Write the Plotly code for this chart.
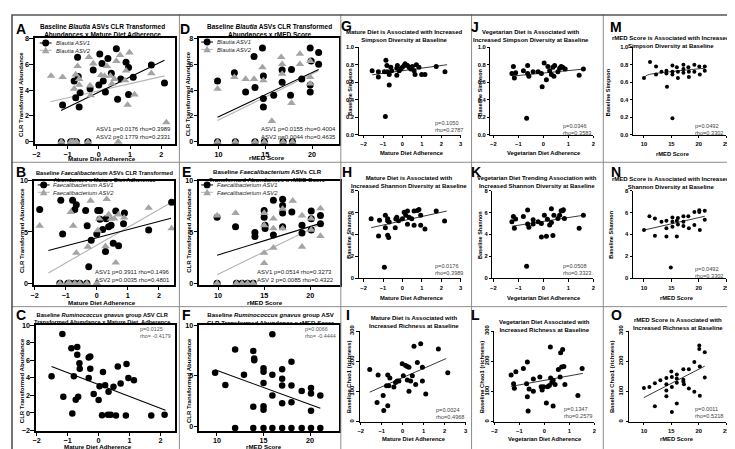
import plotly.graph_objects as go

W, H = 735, 449
FONT = "Liberation Sans, Arial, Helvetica, sans-serif"

# ---------------- tick values ----------------
TICKS_ADH = [-2, -1, 0, 1, 2]
TICKS_ADH3 = [-2, -1, 0, 1, 2, 3]
TICKS_RMED = [10, 15, 20]
TICKS_RMED25 = [10, 15, 20, 25]
TICKS_CLR8 = [0, 2, 4, 6, 8]
TICKS_CLR10 = [0, 5, 10]
TICKS_CLR_C = [-2, 0, 2, 4, 6, 8, 10]
TICKS_SIMPSON = [0, 0.2, 0.4, 0.6, 0.8, 1.0]
TICKS_SHANNON = [0, 2, 4, 6, 8]
TICKS_CHAO = [0, 100, 200, 300]

# ---------------- Panel A: Blautia x Mature diet ----------------
A_x1 = [-1.16, -0.79, -0.74, -0.68, -0.66, -0.60, -0.63, -0.28, -0.18, 0.03, 0.00, 0.10, 0.14, 0.21, 0.29,
        0.40, 0.56, 0.60, 0.70, 0.87, 0.95, 0.95, 1.10, 1.68, 2.10, -1.20, -0.90, -0.82, -0.72, -0.35]
A_y1 = [2.85, 4.70, 3.40, 6.55, 5.05, 3.80, 2.70, 4.10, 5.55, 6.80, 4.40, 6.05, 4.70, 3.85, 6.45,
        5.30, 7.20, 3.30, 4.85, 6.15, 5.75, 3.65, 5.00, 5.95, 4.55, 0, 0, 0, 0, 0]
A_x2 = [-1.53, -1.16, -0.74, -0.68, -0.63, -0.63, -0.79, -0.32, -0.28, -0.26, -0.18, 0.07, 0.18, 0.26, 0.37,
        0.42, 0.50, 0.68, 0.56, 0.84, 0.87, 0.92, 1.14, 0.98, 1.68, 2.16, -1.20, -0.90, -0.82, -0.72, -0.35, 0.62]
A_y2 = [5.10, 5.00, 5.20, 5.85, 4.85, 4.40, 4.10, 6.55, 4.35, 3.60, 6.05, 5.15, 5.10, 5.85, 5.10,
        4.50, 4.85, 6.70, 6.25, 4.75, 5.50, 2.85, 3.65, 6.90, 5.30, 1.50, 0, 0, 0, 0, 0, 0]
A_fit1_x = [-1.21, 2.10]
A_fit1_y = [2.42, 6.30]
A_fit2_x = [-1.55, 2.10]
A_fit2_y = [3.10, 5.10]

# ---------------- Panel D: Blautia x rMED ----------------
D_x1 = [9.9, 11.7, 12.9, 13.8, 13.9, 14.7, 14.8, 14.8, 14.8, 15.9, 16.8, 16.8, 17.8, 17.7, 18.9, 19.8, 19.9,
        19.8, 19.8, 20.7, 20.7, 9.9, 11.8, 13.9, 14.9, 16.9, 17.9]
D_y1 = [4.70, 5.35, 3.85, 6.60, 4.20, 7.25, 5.10, 3.35, 2.70, 3.60, 5.55, 4.60, 5.60, 3.60, 4.85, 7.25, 6.25,
        3.85, 4.40, 6.90, 6.00, 0, 0, 0, 0, 0, 0]
D_x2 = [9.9, 11.7, 12.9, 13.8, 14.7, 14.8, 15.7, 16.7, 16.8, 16.8, 17.8, 18.7, 18.7, 19.8, 19.8, 19.8,
        9.9, 11.8, 13.9, 14.9, 16.9, 17.9]
D_y2 = [4.10, 5.00, 4.85, 4.85, 5.75, 4.75, 1.60, 6.55, 6.00, 5.25, 3.00, 6.80, 6.00, 6.25, 5.00, 4.50,
        0, 0, 0, 0, 0, 0]
D_fit1_x = [9.9, 20.7]
D_fit1_y = [1.90, 5.60]
D_fit2_x = [9.9, 20.7]
D_fit2_y = [1.65, 5.50]

# ---------------- Panel B: Faecalibacterium x Mature diet ----------------
B_x1 = [-1.84, -1.16, -1.10, -0.78, -0.71, -0.66, -0.36, -0.31, -0.26, -0.18, 0.00, 0.03, 0.10, 0.10, 0.19,
        0.30, 0.28, 0.38, 0.46, 0.53, 0.61, 0.70, 0.86, 0.89, 1.67, 2.41, -1.19, -0.93, -0.87, -0.71, -0.55, -0.32]
B_y1 = [7.20, 8.10, 4.80, 8.10, 7.20, 7.65, 7.10, 5.60, 1.60, 4.20, 4.80, 7.10, 7.10, 6.25, 5.25,
        6.30, 3.10, 5.50, 5.65, 3.90, 7.05, 3.65, 5.80, 6.85, 5.20, 7.90, 0, 0, 0, 0, 0, 0]
B_x2 = [-1.84, -0.84, -0.76, -0.66, -0.20, -0.29, 0.03, 0.08, 0.28, 0.32, 0.38, 0.46, 0.56, 0.61, 0.70,
        0.88, 1.67, 2.41, -1.19, -0.93, -0.87, -0.71, -0.55, -0.32, 0.00]
B_y2 = [5.60, 6.95, 5.60, 2.95, 8.05, 3.55, 5.15, 6.30, 3.60, 8.20, 6.70, 6.30, 6.30, 2.00, 6.70,
        6.40, 7.35, 5.35, 0, 0, 0, 0, 0, 0, 0]
B_fit1_x = [-1.56, 2.39]
B_fit1_y = [3.20, 6.35]
B_fit2_x = [-1.56, 2.41]
B_fit2_y = [1.00, 7.90]

# ---------------- Panel E: Faecalibacterium x rMED ----------------
E_x1 = [9.9, 11.9, 14.0, 14.0, 15.0, 15.0, 15.1, 15.1, 16.0, 16.0, 17.0, 17.0, 17.0, 17.0, 18.0, 19.1, 19.1,
        20.1, 20.1, 20.1, 21.1, 21.1, 9.9, 12.0, 12.6, 13.2, 13.8]
E_y1 = [6.45, 5.50, 4.95, 4.55, 7.10, 6.45, 5.65, 5.35, 4.70, 8.10, 8.20, 7.60, 6.85, 5.50, 6.95, 5.65, 4.90,
        7.05, 6.30, 5.20, 6.60, 5.80, 0, 0, 0, 0, 0]
E_x2 = [9.9, 11.9, 15.0, 15.0, 15.0, 15.0, 16.0, 16.0, 16.0, 17.0, 17.0, 18.1, 19.1, 19.1, 20.1, 20.1, 21.1, 21.1,
        9.9, 12.0, 12.6, 13.2, 13.8]
E_y2 = [6.60, 6.85, 6.85, 5.65, 2.95, 1.95, 6.30, 5.35, 3.45, 7.25, 5.35, 8.05, 6.60, 3.55, 6.30, 5.20, 7.30, 4.60,
        0, 0, 0, 0, 0]
E_fit1_x = [9.9, 21.1]
E_fit1_y = [2.73, 5.84]
E_fit2_x = [9.9, 21.1]
E_fit2_y = [0.83, 5.75]

# ---------------- Panel C: R. gnavus x Mature diet ----------------
C_x = [-1.52, -1.17, -1.14, -0.88, -0.85, -0.80, -0.74, -0.69, -0.69, -0.66, -0.62, -0.61, -0.32, -0.27, -0.27,
       -0.32, -0.16, 0.00, 0.03, 0.14, 0.11, 0.21, 0.32, 0.30, 0.39, 0.48, 0.56, 0.62, 0.71, 0.88, 0.90, 0.96,
       1.14, 1.70, 2.13]
C_y = [4.17, 9.00, 1.86, 7.37, -0.07, 4.17, 1.50, 7.52, 6.63, 1.86, 5.66, 5.03, 6.33, 6.44, 5.03,
       3.98, 2.16, 1.49, 3.05, 4.66, -0.26, 3.17, 2.42, -0.19, -0.19, 2.98, -0.30, 5.29, 3.35, -0.30, 5.59, 3.98,
       3.72, -0.30, -0.19]
C_fit_x = [-1.52, 2.16]
C_fit_y = [5.29, 0.30]

# ---------------- Panel F: R. gnavus x rMED ----------------
F_x = [9.8, 10.9, 11.95, 12.9, 13.9, 14.0, 14.0, 15.0, 15.0, 15.0, 13.9, 15.0, 15.0, 15.95, 15.95, 15.95,
       17.0, 17.0, 17.0, 17.0, 18.0, 18.0, 18.0, 19.1, 20.1, 20.1, 20.1, 21.1,
       11.95, 13.9, 15.0, 15.95, 17.0, 18.0, 19.1, 20.1, 21.1]
F_y = [5.30, 4.10, 7.60, 5.10, 7.45, 6.70, 6.55, 5.75, 5.40, 4.30, 1.95, 2.00, 1.65, 9.10, 5.10, 3.05,
       5.65, 4.70, 4.05, 2.30, 6.40, 4.05, 2.40, 3.50, 3.80, 3.25, 1.55, 3.05,
       -0.15, -0.15, -0.15, -0.15, -0.15, -0.15, -0.15, -0.15, -0.15]
F_fit_x = [9.8, 21.1]
F_fit_y = [5.60, 1.80]

# ---------------- Panel G/H/I: Mature diet x diversity ----------------
G_x = [-1.56, -1.24, -1.24, -0.93, -0.85, -0.80, -0.77, -0.68, -0.68, -0.88, -0.60, -0.55, -0.29, -0.26, -0.29,
       -0.17, -0.09, 0.00, 0.09, 0.14, 0.26, 0.34, 0.43, 0.51, 0.60, 0.72, 0.85, 0.65, 0.99, 1.16, 1.74, 2.19]
G_y = [0.73, 0.72, 0.66, 0.72, 0.85, 0.79, 0.72, 0.69, 0.57, 0.21, 0.77, 0.73, 0.76, 0.79, 0.68,
       0.73, 0.75, 0.77, 0.79, 0.81, 0.79, 0.77, 0.75, 0.78, 0.73, 0.80, 0.77, 0.69, 0.69, 0.69, 0.78, 0.72]
G_fit_x = [-1.56, 2.30]
G_fit_y = [0.685, 0.80]

H_x = [-1.61, -1.23, -1.18, -0.88, -0.88, -0.76, -0.76, -0.76, -0.71, -0.68, -0.93, -0.37, -0.34, -0.29, -0.20,
       0.00, 0.09, 0.17, 0.26, 0.26, 0.34, 0.48, 0.60, 0.60, 0.77, 0.85, 0.94, 0.94, 1.16, 1.74, 2.17]
H_y = [5.43, 3.87, 5.29, 5.74, 4.62, 5.43, 5.26, 3.94, 3.73, 5.14, 1.02, 4.62, 5.41, 5.56, 5.26,
       5.43, 6.03, 5.74, 6.13, 4.93, 5.56, 5.43, 6.13, 4.83, 6.19, 6.28, 5.74, 4.83, 4.50, 6.13, 5.22]
H_fit_x = [-1.61, 2.28]
H_fit_y = [4.62, 6.13]

I_x = [-1.57, -1.17, -1.22, -0.93, -0.90, -0.77, -0.71, -0.71, -0.66, -0.61, -0.42, -0.34, -0.26, -0.18, -0.02,
       0.03, 0.14, 0.22, 0.22, 0.30, 0.30, 0.38, 0.46, 0.54, 0.62, 0.70, 0.86, 0.94, 0.94, 1.10, 1.70, 2.15]
I_y = [173, 155, 64, 87, 37, 119, 155, 53, 119, 145, 115, 130, 135, 135, 192,
       152, 186, 183, 138, 180, 101, 135, 152, 250, 123, 196, 258, 180, 135, 92, 241, 162]
I_fit_x = [-1.57, 2.07]
I_fit_y = [98, 209]

# ---------------- Panel J/K/L: Vegetarian diet x diversity ----------------
J_x = [-1.26, -1.20, -1.16, -1.11, -0.80, -0.63, -0.63, -0.58, -0.67, -0.41, -0.21, -0.08, -0.05, 0.03, 0.12,
       0.18, 0.25, 0.32, 0.38, 0.42, 0.45, 0.58, 0.65, 0.71, 0.77, 0.87, 1.43, 1.60]
J_y = [0.70, 0.78, 0.65, 0.71, 0.73, 0.79, 0.70, 0.67, 0.19, 0.72, 0.72, 0.70, 0.55, 0.82, 0.63,
       0.78, 0.73, 0.69, 0.77, 0.67, 0.79, 0.72, 0.76, 0.78, 0.77, 0.75, 0.68, 0.75]
J_fit_x = [-1.26, 1.60]
J_fit_y = [0.67, 0.75]

K_x = [-1.26, -1.20, -1.16, -1.11, -0.80, -0.63, -0.63, -0.58, -0.67, -0.41, -0.41, -0.21, -0.08, -0.08, 0.04,
       0.12, 0.16, 0.25, 0.32, 0.32, 0.38, 0.42, 0.58, 0.65, 0.71, 0.77, 0.84, 0.80, 1.43, 1.60]
K_y = [5.16, 5.63, 4.56, 5.41, 5.63, 6.22, 4.95, 4.66, 1.10, 5.33, 4.95, 5.16, 5.00, 3.77, 5.75,
       3.83, 5.39, 4.87, 6.35, 5.10, 3.90, 5.75, 5.45, 5.75, 6.15, 6.15, 5.45, 6.25, 4.56, 5.75]
K_fit_x = [-1.26, 1.60]
K_fit_y = [4.75, 5.75]

L_x = [-1.33, -1.23, -1.20, -1.14, -0.84, -0.71, -0.68, -0.68, -0.65, -0.61, -0.44, -0.44, -0.18, -0.13, -0.09,
       -0.03, 0.08, 0.13, 0.20, 0.25, 0.24, 0.30, 0.35, 0.35, 0.43, 0.56, 0.63, 0.65, 0.69, 0.73, 0.78, 0.82,
       1.34, 1.51]
L_y = [155, 126, 111, 165, 176, 126, 198, 83, 36, 108, 141, 101, 148, 116, 105,
       116, 62, 116, 120, 145, 247, 130, 52, 137, 123, 173, 148, 228, 181, 239, 183, 123,
       87, 176]
L_fit_x = [-1.33, 1.54]
L_fit_y = [117, 160]

# ---------------- Panel M/N/O: rMED x diversity ----------------
M_x = [10, 11.1, 12.2, 12.2, 13.2, 14.1, 14.1, 14.2, 15.2, 15.2, 15.2, 15.2, 16.0, 16.2, 16.2, 17.2, 17.2,
       17.2, 18.1, 18.2, 18.2, 19.2, 19.2, 20.1, 20.2, 21.1, 21.1]
M_y = [0.65, 0.83, 0.78, 0.69, 0.72, 0.73, 0.70, 0.55, 0.79, 0.72, 0.69, 0.19, 0.77, 0.72, 0.65, 0.80, 0.75,
       0.71, 0.77, 0.72, 0.66, 0.80, 0.72, 0.78, 0.69, 0.78, 0.73]
M_fit_x = [10, 10.4, 11, 12, 14, 17, 21.1]
M_fit_y = [0.65, 0.675, 0.69, 0.70, 0.715, 0.735, 0.76]

N_x = [10, 11, 12, 12, 13.2, 14.1, 14.1, 14.1, 14.9, 15.2, 15.2, 15.2, 16.0, 16.0, 16.2, 16.2, 17.2, 17.2,
       17.2, 18.1, 18.2, 19.2, 19.2, 20.1, 20.1, 20.2, 21.1, 21.1]
N_y = [4.41, 5.66, 5.45, 3.88, 5.16, 5.24, 4.56, 3.82, 1.00, 5.54, 5.16, 4.70, 5.24, 3.82, 5.50, 4.90, 5.66, 5.16,
       4.77, 5.66, 4.56, 6.05, 4.86, 6.20, 6.05, 4.41, 6.15, 5.33]
N_fit_x = [10, 21.1]
N_fit_y = [4.40, 5.66]

O_x = [10, 11, 12, 12, 13, 14.1, 14.1, 14.1, 14.1, 15, 15.1, 15.1, 15.1, 16, 16, 16, 16, 17.2, 17.2, 17.2,
       17.3, 18.2, 18.2, 19.2, 19.2, 20.1, 20.1, 20.2, 20.2, 21.1, 21.1]
O_y = [112, 115, 127, 51, 137, 145, 124, 103, 84, 166, 148, 115, 32, 156, 143, 129, 60, 174, 139, 132,
       124, 174, 110, 198, 99, 252, 241, 183, 86, 230, 146]
O_fit_x = [10, 21.1]
O_fit_y = [80, 184]

# ---------------- layout geometry (pixels) ----------------
ORDER = ['A', 'D', 'G', 'J', 'M', 'B', 'E', 'H', 'K', 'N', 'C', 'F', 'I', 'L', 'O']
GEOM = {
    'A': dict(dx=(24, 166), dy=(25, 133), xr=[-2.05, 2.45], yr=[-0.15, 8], xt=TICKS_ADH, yt=TICKS_CLR8, box=True),
    'D': dict(dx=(190, 331), dy=(25, 133), xr=[7.94, 22.86], yr=[-0.15, 8], xt=TICKS_RMED, yt=TICKS_CLR8, box=True),
    'B': dict(dx=(23, 165), dy=(171, 277.5), xr=[-2.03, 2.5], yr=[-0.15, 10], xt=TICKS_ADH, yt=TICKS_CLR10, box=True),
    'E': dict(dx=(190, 332), dy=(171, 277.5), xr=[7.96, 23.2], yr=[-0.15, 10], xt=TICKS_RMED, yt=TICKS_CLR10, box=True),
    'C': dict(dx=(25, 166), dy=(319, 427), xr=[-2.03, 2.48], yr=[-2, 10], xt=TICKS_ADH, yt=TICKS_CLR_C, box=True,
              xso=-2),
    'F': dict(dx=(190, 331), dy=(319, 427), xr=[8.09, 23.09], yr=[-0.4, 10], xt=TICKS_RMED, yt=TICKS_CLR10, box=True,
              xso=-2),
    'G': dict(dx=(351, 454), dy=(34, 124), xr=[-2.255, 3], yr=[0, 1], xt=TICKS_ADH3, yt=TICKS_SIMPSON, fmt='.1f'),
    'H': dict(dx=(351, 454), dy=(181, 271), xr=[-2.255, 3], yr=[0, 8], xt=TICKS_ADH3, yt=TICKS_SHANNON),
    'I': dict(dx=(352, 459), dy=(325, 418), xr=[-2.05, 3], yr=[0, 300], xt=TICKS_ADH3, yt=TICKS_CHAO, rot=True),
    'J': dict(dx=(484, 588), dy=(34, 124), xr=[-2.12, 2], yr=[0, 1], xt=TICKS_ADH, yt=TICKS_SIMPSON, fmt='.1f'),
    'K': dict(dx=(486, 588), dy=(181, 271), xr=[-2.04, 2], yr=[0, 8], xt=TICKS_ADH, yt=TICKS_SHANNON),
    'L': dict(dx=(488, 589), dy=(325, 418), xr=[-2.0, 2], yr=[0, 300], xt=TICKS_ADH, yt=TICKS_CHAO, rot=True),
    'M': dict(dx=(628, 722), dy=(34, 124), xr=[8, 25], yr=[0, 1], xt=TICKS_RMED25, yt=TICKS_SIMPSON, fmt='.1f'),
    'N': dict(dx=(628, 722), dy=(181, 271), xr=[8, 25], yr=[0, 8], xt=TICKS_RMED25, yt=TICKS_SHANNON),
    'O': dict(dx=(624, 722), dy=(325, 418), xr=[7.29, 25], yr=[0, 300], xt=TICKS_RMED25, yt=TICKS_CHAO, rot=True),
}

SERIES = {
    'A': [('fitg', A_fit2_x, A_fit2_y), ('fitk', A_fit1_x, A_fit1_y), ('c', A_x1, A_y1), ('t', A_x2, A_y2)],
    'D': [('fitg', D_fit2_x, D_fit2_y), ('fitk', D_fit1_x, D_fit1_y), ('c', D_x1, D_y1), ('t', D_x2, D_y2)],
    'B': [('fitg', B_fit2_x, B_fit2_y), ('fitk', B_fit1_x, B_fit1_y), ('c', B_x1, B_y1), ('t', B_x2, B_y2)],
    'E': [('fitg', E_fit2_x, E_fit2_y), ('fitk', E_fit1_x, E_fit1_y), ('c', E_x1, E_y1), ('t', E_x2, E_y2)],
    'C': [('fitk', C_fit_x, C_fit_y), ('c', C_x, C_y)],
    'F': [('fitk', F_fit_x, F_fit_y), ('c', F_x, F_y)],
    'G': [('fitt', G_fit_x, G_fit_y), ('d5', G_x, G_y)],
    'H': [('fitt', H_fit_x, H_fit_y), ('d5', H_x, H_y)],
    'I': [('fitt', I_fit_x, I_fit_y), ('d5', I_x, I_y)],
    'J': [('fitt', J_fit_x, J_fit_y), ('d5', J_x, J_y)],
    'K': [('fitt', K_fit_x, K_fit_y), ('d5', K_x, K_y)],
    'L': [('fitt', L_fit_x, L_fit_y), ('d5', L_x, L_y)],
    'M': [('fitt', M_fit_x, M_fit_y), ('d4', M_x, M_y)],
    'N': [('fitt', N_fit_x, N_fit_y), ('d4', N_x, N_y)],
    'O': [('fitt', O_fit_x, O_fit_y), ('d4', O_x, O_y)],
}

GREY = "#a4a4a4"
GREY_LINE = "#b4b4b4"

fig = go.Figure()


def fx(px):
    return px / W


def fy(py):
    return 1 - py / H


for i, key in enumerate(ORDER, start=1):
    g = GEOM[key]
    xn = 'x' if i == 1 else f'x{i}'
    yn = 'y' if i == 1 else f'y{i}'
    box = g.get('box', False)
    tf = 7.2 if box else 5.8
    common = dict(showgrid=False, zeroline=False, showline=True, linecolor='black',
                  ticks='outside', tickcolor='black', fixedrange=True,
                  linewidth=1.8 if box else 1.0, mirror=box,
                  ticklen=3.5 if box else 2.5, tickwidth=1.4 if box else 1.0,
                  tickfont=dict(family=FONT, size=tf, color='black', weight='bold'),
                  tickmode='array')
    xa = dict(domain=[fx(g['dx'][0]), fx(g['dx'][1])], range=g['xr'], anchor=yn,
              tickvals=g['xt'], ticklabelstandoff=int(g.get('xso', -1 if box else 1)), **common)
    ya = dict(domain=[fy(g['dy'][1]), fy(g['dy'][0])], range=g['yr'], anchor=xn,
              tickvals=g['yt'], ticklabelstandoff=-1 if box else 0, **common)
    if g.get('fmt'):
        ya['tickformat'] = g['fmt']
    if g.get('rot'):
        ya['tickangle'] = -90
    fig.update_layout({('xaxis' if i == 1 else f'xaxis{i}'): xa,
                       ('yaxis' if i == 1 else f'yaxis{i}'): ya})

    for kind, xs, ys in SERIES[key]:
        if kind == 'fitk':
            tr = go.Scatter(x=xs, y=ys, mode='lines', line=dict(color='black', width=1.1))
        elif kind == 'fitg':
            tr = go.Scatter(x=xs, y=ys, mode='lines', line=dict(color=GREY_LINE, width=1.1))
        elif kind == 'fitt':
            tr = go.Scatter(x=xs, y=ys, mode='lines', line=dict(color='#222222', width=0.9, shape='spline'))
        elif kind == 'c':
            sz = 7 if key in ('A', 'D', 'B', 'E') else 6.5
            tr = go.Scatter(x=xs, y=ys, mode='markers', cliponaxis=False,
                            marker=dict(symbol='circle', size=sz, color='black', line=dict(width=0)))
        elif kind == 't':
            tr = go.Scatter(x=xs, y=ys, mode='markers', cliponaxis=False,
                            marker=dict(symbol='triangle-up', size=7.5, color=GREY, line=dict(width=0)))
        elif kind == 'd5':
            tr = go.Scatter(x=xs, y=ys, mode='markers', cliponaxis=False,
                            marker=dict(symbol='circle', size=5, color='black', line=dict(width=0)))
        else:
            tr = go.Scatter(x=xs, y=ys, mode='markers', cliponaxis=False,
                            marker=dict(symbol='circle', size=4, color='black', line=dict(width=0)))
        tr.update(xaxis=xn, yaxis=yn, showlegend=False, hoverinfo='skip')
        fig.add_trace(tr)


def txt(text, x, y, size, weight='normal', color='black', xanchor='center', angle=0, style='normal',
        align='center'):
    fig.add_annotation(text=text, x=fx(x), y=fy(y), xref='paper', yref='paper', showarrow=False,
                       xanchor=xanchor, yanchor='middle', textangle=angle, borderpad=0, align=align,
                       font=dict(family=FONT, size=size, color=color, weight=weight, style=style))


# panel letters
LETTERS = [('A', 10, 15), ('D', 176, 15), ('G', 339, 12), ('J', 468, 13), ('M', 611, 13),
           ('B', 10, 162), ('E', 177, 162), ('H', 339, 162), ('K', 469, 162), ('N', 611, 162),
           ('C', 10, 309), ('F', 177, 309), ('I', 340, 309), ('L', 469, 309), ('O', 611, 309)]
for t, x, y in LETTERS:
    txt(t, x, y, 14, weight='bold')

# panel titles (two lines each)
TITLES = [
    ('Baseline <i>Blautia</i> ASVs CLR Transformed<br>Abundances x Mature Diet Adherence', 92, 17.0, 6.5),
    ('Baseline <i>Blautia</i> ASVs CLR Transformed<br>Abundances x rMED Score', 261, 17.0, 6.5),
    ('Baseline <i>Faecalibacterium</i> ASVs CLR Transformed<br>Abundances x Mature Diet Adherence', 95, 166.2, 5.7),
    ('Baseline <i>Faecalibacterium</i> ASVs CLR<br>Transformed Abundances x rMED Score', 259, 166.0, 6.1),
    ('Baseline <i>Ruminococcus gnavus</i> group ASV CLR<br>Transformed Abundance x Mature Diet  Adherence',
     92, 312.4, 5.7),
    ('Baseline <i>Ruminococcus gnavus</i> group ASV<br>CLR Transformed Abundance x rMED Score', 262, 312.2, 6.1),
    ('Mature Diet is Associated with Increased<br>Simpson Diversity at Baseline', 397, 23.0, 6.0),
    ('Mature Diet is Associated with<br>Increased Shannon Diversity at Baseline', 402, 172.2, 6.0),
    ('Mature Diet is Associated with<br>Increased Richness at Baseline', 407, 316.0, 6.0),
    ('Vegetarian Diet is Associated with<br>Increased Simpson Diversity at Baseline', 525, 23.0, 6.0),
    ('Vegetarian Diet Trending Association with<br>Increased Shannon Diversity at Baseline', 531, 172.0, 6.0),
    ('Vegetarian Diet Associated with<br>Increased Richness at Baseline', 539, 319.8, 6.0),
    ('rMED Score is Associated with Increased<br>Simpson Diversity at Baseline', 666, 28.6, 6.0),
    ('rMED Score is Associated with Increased<br>Shannon Diversity at Baseline', 666, 173.4, 6.0),
    ('rMED Score is Associated with<br>Increased Richness at Baseline', 673, 318.0, 6.0),
]
for t, x, y, s in TITLES:
    txt(t, x, y, s, weight='bold')

# axis titles
XTITLES = [
    ('Mature Diet Adherence', 92, 147.8, 6.2), ('rMED Score', 258, 147.2, 6.2),
    ('Mature Diet Adherence', 92, 295.8, 6.2), ('rMED Score', 256, 295.4, 6.2),
    ('Mature Diet Adherence', 88, 443.5, 6.2), ('rMED Score', 255, 443.5, 6.2),
    ('Mature Diet Adherence', 405, 142, 5.8), ('Mature Diet Adherence', 405, 291, 5.8),
    ('Mature Diet Adherence', 407, 436, 5.8),
    ('Vegetarian Diet Adherence', 538, 143, 5.8), ('Vegetarian Diet Adherence', 538, 291, 5.8),
    ('Vegetarian Diet Adherence', 539, 436, 5.8),
    ('rMED Score', 668, 144, 5.8), ('rMED Score', 672, 291, 5.8), ('rMED Score', 672, 436, 5.8),
]
for t, x, y, s in XTITLES:
    txt(t, x, y, s, weight='bold')

YTITLES = [
    ('CLR Transformed Abundance', 10, 82, 6.0), ('CLR Transformed Abundance', 179, 82, 6.0),
    ('CLR Transformed Abundance', 10.5, 222, 6.0), ('CLR Transformed Abundance', 179, 222, 6.0),
    ('CLR Transformed Abundance', 10.5, 376, 6.0), ('CLR Transformed Abundance', 179, 376, 6.0),
    ('Baseline Simpson', 342, 80, 5.5), ('Baseline Shannon', 341.5, 226, 5.5),
    ('Baseline Chao1 (richness)', 341.5, 372, 5.8),
    ('Baseline Simpson', 474, 80, 5.5), ('Baseline Shannon', 474, 226, 5.5),
    ('Baseline Chao1 (richness)', 475, 372, 5.8),
    ('Baseline Simpson', 603, 80, 5.5), ('Baseline Shannon', 606, 226, 5.5),
    ('Baseline Chao1 (richness)', 607, 372, 5.8),
]
for t, x, y, s in YTITLES:
    txt(t, x, y, s, weight='bold', angle=-90)

# statistics text (two lines each)
STATS = [
    ('ASV1 p=0.0176 rho=0.3989<br>ASV2 p=0.1779 rho=0.2331', 163, 122.5, '#222222', 6.0),
    ('ASV1 p=0.0155 rho=0.4004<br>ASV2 p=0.0044 rho=0.4635', 329, 122.5, '#222222', 6.0),
    ('ASV1 p=0.3911 rho=0.1496<br>ASV2 p=0.0035 rho=0.4801', 162, 268.5, '#222222', 6.0),
    ('ASV1 p=0.0514 rho=0.3273<br>ASV 2 p=0.0085 rho=0.4322', 327, 269, '#222222', 6.0),
    ('p=0.0125<br>rho= -0.4179', 163, 327, '#555555', 5.4),
    ('p=0.0066<br>rho= -0.4444', 329, 326, '#555555', 5.4),
    ('p=0.1050<br>rho=0.2787', 457, 115, '#444444', 5.6),
    ('p=0.0176<br>rho=0.3989', 457, 262, '#444444', 5.6),
    ('p=0.0024<br>rho=0.4968', 458, 409.5, '#444444', 5.6),
    ('p=0.0346<br>rho=0.3583', 587, 118, '#444444', 5.6),
    ('p=0.0508<br>rho=0.3323', 587, 262, '#444444', 5.6),
    ('p=0.1347<br>rho=0.2579', 588, 408.5, '#444444', 5.6),
    ('p=0.0492<br>rho=0.3302', 720, 118.5, '#444444', 5.6),
    ('p=0.0492<br>rho=0.3302', 720, 264.5, '#444444', 5.6),
    ('p=0.0011<br>rho=0.5218', 720, 409, '#444444', 5.6),
]
for t, x, y, c, s in STATS:
    txt(t, x, y, s, color=c, xanchor='right', align='left')

# legends (marker + short line, labels as one two-line text)
shapes = []
LEG_FS = 5.8
LEG_STEP = 1.3 * LEG_FS


def legend(cx, cy_mid, tx, label1, label2):
    y1 = cy_mid - LEG_STEP / 2
    y2 = cy_mid + LEG_STEP / 2
    shapes.append(dict(type='line', xref='paper', yref='paper', x0=fx(cx - 6), x1=fx(cx + 6),
                       y0=fy(y1), y1=fy(y1), line=dict(color='black', width=1)))
    shapes.append(dict(type='circle', xref='paper', yref='paper', x0=fx(cx - 3.5), x1=fx(cx + 3.5),
                       y0=fy(y1 + 3.5), y1=fy(y1 - 3.5), fillcolor='black', line=dict(width=0)))
    shapes.append(dict(type='line', xref='paper', yref='paper', x0=fx(cx - 6), x1=fx(cx + 6),
                       y0=fy(y2), y1=fy(y2), line=dict(color=GREY_LINE, width=1)))
    path = (f"M {fx(cx - 3.8)},{fy(y2 + 3)} L {fx(cx + 3.8)},{fy(y2 + 3)} "
            f"L {fx(cx)},{fy(y2 - 3.6)} Z")
    shapes.append(dict(type='path', xref='paper', yref='paper', path=path, fillcolor=GREY,
                       line=dict(width=0)))
    txt(f"<i>{label1}</i><br><i>{label2}</i>", tx, cy_mid, LEG_FS, xanchor='left', align='left',
        color='#222222')


legend(35, 33.5, 44, 'Blautia ASV1', 'Blautia ASV2')
legend(198, 32.5, 207, 'Blautia ASV1', 'Blautia ASV2')
legend(33, 179.0, 41, 'Faecalibacterium ASV1', 'Faecalibacterium ASV2')
legend(198, 179.0, 207, 'Faecalibacterium ASV1', 'Faecalibacterium ASV2')

# separators and outer frame
for xv in (170, 333, 465, 598):
    shapes.append(dict(type='line', xref='paper', yref='paper', x0=fx(xv), x1=fx(xv), y0=0, y1=1,
                       line=dict(color='#8c8c8c', width=1)))
for yv in (152, 300):
    shapes.append(dict(type='line', xref='paper', yref='paper', x0=0, x1=1, y0=fy(yv), y1=fy(yv),
                       line=dict(color='#8c8c8c', width=1)))
shapes.append(dict(type='rect', xref='paper', yref='paper', x0=fx(1), x1=fx(734), y0=fy(448), y1=fy(1),
                   line=dict(color='#555555', width=1.6)))

fig.update_layout(width=W, height=H, margin=dict(l=0, r=0, t=0, b=0), paper_bgcolor='white',
                  plot_bgcolor='rgba(0,0,0,0)', showlegend=False, shapes=shapes,
                  font=dict(family=FONT, color='black'))

fig.write_html("out.html")
